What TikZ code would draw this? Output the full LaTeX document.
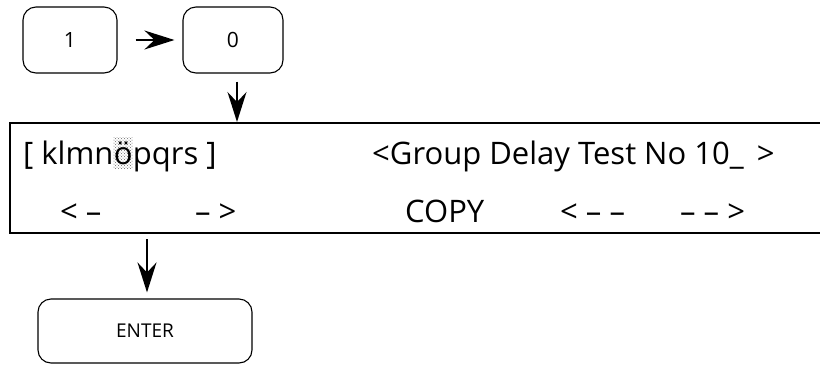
\documentclass[tikz,border=0pt]{standalone}
\usepackage{fontspec}
\setmainfont{Open Sans}
\usetikzlibrary{arrows.meta,patterns,backgrounds}
\begin{document}
\begin{tikzpicture}[x=1pt,y=-1pt,
  key/.style={draw,line width=1.1pt,rounded corners=13pt,inner sep=0pt},
  arr/.style={-{Stealth[length=30pt,width=19pt,inset=10pt]},line width=1.6pt},
  disp/.style={font=\fontsize{31}{33}\selectfont,inner sep=0pt,anchor=base west},
  frame/.style={line width=1.2pt}]
\useasboundingbox (0,0) rectangle (820,368);
% keys
\node[key,minimum width=94pt,minimum height=66pt,font=\fontsize{21}{23}\selectfont] (k1) at (70,40) {1};
\node[key,minimum width=100pt,minimum height=66pt,font=\fontsize{21}{23}\selectfont] (k0) at (233,40) {0};
\node[key,minimum width=214pt,minimum height=64pt,font=\fontsize{19}{21}\selectfont] (enter) at (145,331) {ENTER};
% display frame
\draw[frame] (820,123) -- (10,123) -- (10,233) -- (820,233);
\coordinate (dtop) at (237,123);
\coordinate (dbot) at (147,233);
% display texts
\node[disp] (t1) at (23,164) {[ klmn};
\node[disp] (t2) at (t1.base east) {ö};
\node[disp] (t3) at (t2.base east) {pqrs ]};
\begin{scope}[on background layer]
\fill[pattern=crosshatch dots,pattern color=black!60] ([yshift=4pt]t2.north west) rectangle ([yshift=-4pt]t2.south east);
\end{scope}
\node[disp] (t4) at (372,164) {<Group Delay Test No 10\_ \,>};
\node[disp] (s1) at (60,222) {< –};
\node[disp] (s2) at (195,222) {– >};
\node[disp] (s3) at (405,222) {COPY};
\node[disp] (s4) at (560,222) {< – –};
\node[disp] (s5) at (680,222) {– – >};
% connectors
\draw[arr,shorten <=18pt,shorten >=8pt] (k1.east) -- (k0.west);
\draw[arr,shorten <=8pt,shorten >=1pt] (k0.south -| dtop) -- (dtop);
\draw[arr,shorten <=6pt,shorten >=6pt] (dbot) -- (dbot |- enter.north);
\end{tikzpicture}
\end{document}
